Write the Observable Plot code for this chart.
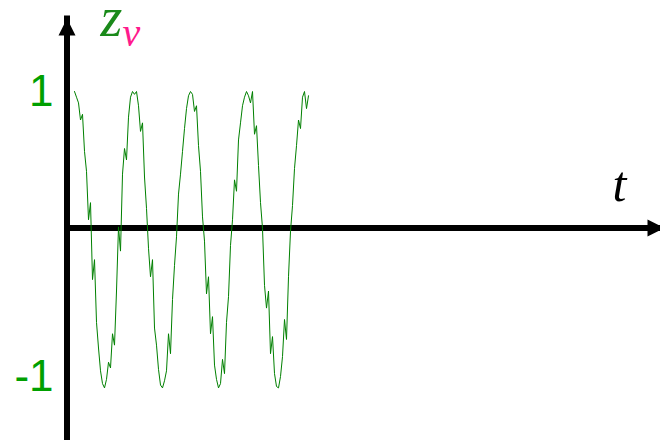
<!DOCTYPE html>
<html>
<head>
<meta charset="utf-8">
<script src="https://cdn.jsdelivr.net/npm/d3@7"></script>
<script src="https://cdn.jsdelivr.net/npm/@observablehq/plot@0.6"></script>
<style>
  html, body { margin: 0; padding: 0; background: white; }
</style>
</head>
<body>
<div id="chart"></div>
<script>
// Noisy oscillation z_v sampled at regular time steps
const zv = [
  1.00, 0.96, 0.92, 0.80, 0.84, 0.58, 0.44, 0.10, 0.22, -0.32,
  -0.18, -0.62, -0.80, -0.96, -1.05, -1.08, -1.02, -0.90, -0.94, -0.70,
  -0.78, -0.40, 0.05, -0.12, 0.42, 0.60, 0.52, 0.82, 0.96, 1.00,
  0.98, 1.00, 0.90, 0.72, 0.78, 0.40, 0.18, -0.10, -0.30, -0.18,
  -0.66, -0.78, -0.95, -1.06, -1.08, -1.03, -0.96, -0.70, -0.84, -0.46,
  -0.22, -0.02, 0.28, 0.42, 0.58, 0.74, 0.88, 0.97, 1.00, 0.98,
  0.86, 0.90, 0.62, 0.44, 0.12, -0.05, -0.42, -0.30, -0.70, -0.58,
  -0.92, -1.02, -1.08, -1.05, -0.88, -0.98, -0.62, -0.44, -0.08, 0.10,
  0.38, 0.30, 0.66, 0.78, 0.90, 0.96, 1.00, 0.97, 0.92, 1.00,
  0.70, 0.76, 0.48, 0.22, 0.04, -0.36, -0.52, -0.40, -0.84, -0.72,
  -0.98, -1.07, -1.08, -1.00, -0.86, -0.60, -0.74, -0.30, 0.02, 0.20,
  0.46, 0.62, 0.80, 0.74, 0.96, 1.00, 0.88, 0.97
];

// Labelled levels on the vertical axis
const yTicks = [1, -1];
const yTickLabels = ["1", "-1"];

// Axis titles
const yTitle = "z";
const yTitleSub = "v";
const xTitle = "t";

// Filled arrowheads for the two axes
const arrowUp = {
  draw(ctx) { ctx.moveTo(0, 0); ctx.lineTo(8.5, 17); ctx.lineTo(-8.5, 17); ctx.closePath(); }
};
const arrowRight = {
  draw(ctx) { ctx.moveTo(0, 0); ctx.lineTo(-17, -8.5); ctx.lineTo(-17, 8.5); ctx.closePath(); }
};

const sans = "'Liberation Sans', Arial, sans-serif";
const serif = "'Liberation Serif', 'Times New Roman', serif";

const chart = Plot.plot({
  width: 660,
  height: 440,
  marginLeft: 66.5,
  marginRight: -4,
  marginTop: 18,
  marginBottom: 0,
  style: { background: "white", overflow: "visible" },
  x: { domain: [0, zv.length - 1], range: [74, 308], axis: null },
  y: { domain: [-1, 1], range: [376, 91], axis: null },
  marks: [
    // vertical axis with arrow
    Plot.frame({ anchor: "left", stroke: "black", strokeWidth: 6 }),
    Plot.dot([0], { frameAnchor: "top-left", symbol: arrowUp, fill: "black", stroke: "none" }),
    // horizontal time axis with arrow
    Plot.ruleY([0], { stroke: "black", strokeWidth: 6, dy: -6 }),
    Plot.dot([0], { y: d => d, frameAnchor: "right", dy: -6, symbol: arrowRight, fill: "black", stroke: "none" }),
    // the signal
    Plot.line(zv, { x: (d, i) => i, y: d => d, stroke: "#008000", strokeWidth: 1 }),
    // level labels
    Plot.text(yTicks, {
      y: d => d, text: (d, i) => yTickLabels[i], frameAnchor: "left",
      textAnchor: "end", dx: -13.5, fontSize: 44, fontFamily: sans, fill: "#00a000"
    }),
    // axis titles
    Plot.text([yTitle], {
      text: d => d, frameAnchor: "top-left", dx: 33.5, dy: 17, textAnchor: "start",
      lineAnchor: "bottom", fontSize: 56, fontStyle: "italic", fontFamily: serif, fill: "#1a8a1a"
    }),
    Plot.text([yTitleSub], {
      text: d => d, frameAnchor: "top-left", dx: 55.5, dy: 27, textAnchor: "start",
      lineAnchor: "bottom", fontSize: 40, fontStyle: "italic", fontFamily: serif, fill: "#ff1a8c"
    }),
    Plot.text([xTitle], {
      text: d => d, frameAnchor: "top-right", dx: -52, dy: 182, textAnchor: "start",
      lineAnchor: "bottom", fontSize: 50, fontStyle: "italic", fontFamily: serif, fill: "black"
    })
  ]
});

document.getElementById("chart").appendChild(chart);
</script>
</body>
</html>
